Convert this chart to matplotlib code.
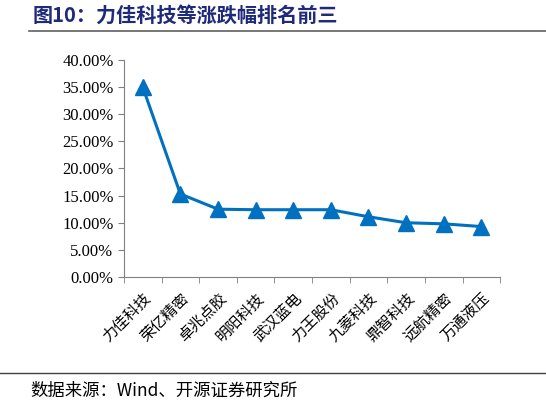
import numpy as np
import matplotlib.pyplot as plt
from matplotlib.ticker import FuncFormatter, FixedLocator

plt.rcParams['font.family'] = ['Liberation Serif', 'Noto Sans CJK SC', 'DejaVu Sans']

names = ["力佳科技", "荣亿精密", "卓兆点胶", "明阳科技", "武汉蓝电",
         "力王股份", "九菱科技", "鼎智科技", "远航精密", "万通液压"]
change = [35.0, 15.3, 12.5, 12.4, 12.4, 12.4, 11.1, 10.0, 9.8, 9.3]

fig = plt.figure(figsize=(5.46, 4.05), dpi=100)
ax = fig.add_axes([0.227, 0.316, 0.689, 0.536])

x = np.arange(len(names))
ax.plot(x, change, color="#0070C0", lw=2.2, marker="^", ms=11,
        markeredgecolor="#0070C0")

ax.set_xlim(-0.5, len(names) - 0.5)
ax.set_ylim(0, 40)
ax.set_yticks(np.arange(0, 41, 5))
ax.yaxis.set_major_formatter(FuncFormatter(lambda v, p: f"{v:.2f}%"))
ax.tick_params(axis="y", labelsize=12, direction="out", length=4, color="#808080")

ax.set_xticks(x)
ax.set_xticklabels(names, rotation=45, ha="right", rotation_mode="anchor",
                   fontsize=11, family=["Noto Sans CJK SC"])
ax.tick_params(axis="x", which="major", length=0, pad=9)
ax.xaxis.set_minor_locator(FixedLocator(np.arange(-0.5, len(names), 1.0)))
ax.tick_params(axis="x", which="minor", length=4, direction="out", color="#808080")

for s in ["top", "right"]:
    ax.spines[s].set_visible(False)
for s in ["left", "bottom"]:
    ax.spines[s].set_color("#808080")

fig.text(0.06, 0.962, "图10：力佳科技等涨跌幅排名前三", fontsize=14.5,
         fontweight="bold", color="#1F2A7A", va="center",
         family=["Noto Sans CJK SC"])
fig.add_artist(plt.Line2D([0.053, 1.0], [0.923, 0.923], color="#606060", lw=1.2))
fig.add_artist(plt.Line2D([0.0, 1.0], [0.079, 0.079], color="#404040", lw=1.0))
fig.text(0.055, 0.036, "数据来源：Wind、开源证券研究所", fontsize=12.5, va="center",
         family=["Noto Sans CJK SC", "Liberation Serif"])

fig.savefig("out.png", dpi=100)
